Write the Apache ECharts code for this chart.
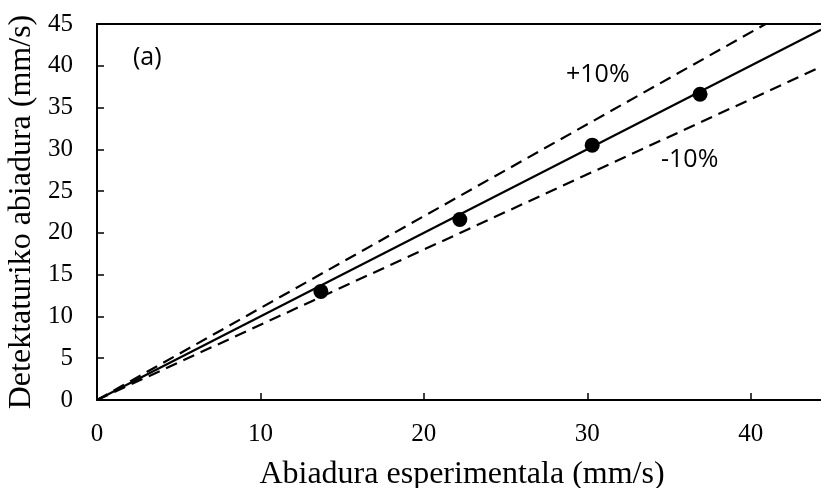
<!DOCTYPE html>
<html>
<head>
<meta charset="utf-8">
<script src="https://cdn.jsdelivr.net/npm/echarts@6/dist/echarts.min.js"></script>
<style>
  html, body { margin: 0; padding: 0; background: #fff; }
  #chart { width: 821px; height: 488px; }
</style>
</head>
<body>
<div id="chart"></div>
<script>
// Measured speeds (experimental vs detected), mm/s
const experimental = [13.7, 22.2, 30.3, 36.9];
const detected = [13.0, 21.6, 30.5, 36.6];

// Reference lines: 1:1 and ±10 % bands (end points)
const lineIdeal = [[0, 0], [44.3, 44.3]];
const linePlus10 = [[0, 0], [40.91, 45]];
const lineMinus10 = [[0, 0], [44.3, 39.87]];

const xTicks = [0, 10, 20, 30, 40];
const yTicks = [0, 5, 10, 15, 20, 25, 30, 35, 40, 45];

const points = experimental.map((x, i) => [x, detected[i]]);

const chart = echarts.init(document.getElementById('chart'));
const serif = '"Liberation Serif", "Times New Roman", serif';
const sans = '"Open Sans", "Noto Sans", sans-serif';

chart.setOption({
  animation: false,
  grid: { left: 97, top: 24, width: 724, height: 376, outerBoundsMode: 'none', containLabel: false },
  xAxis: [{
    type: 'value', min: 0, max: 44.3, interval: 10,
    name: 'Abiadura esperimentala (mm/s)',
    nameLocation: 'middle', nameGap: 59,
    nameTextStyle: { fontFamily: serif, fontSize: 32, color: '#000', padding: [0, 0, 0, 6] },
    axisLine: { show: true, lineStyle: { color: '#000', width: 2 } },
    axisTick: { show: true, inside: true, length: 7, lineStyle: { color: '#000', width: 1.5 } },
    axisLabel: {
      fontFamily: serif, fontSize: 25, color: '#000', margin: 22,
      showMaxLabel: false,
      formatter: v => (xTicks.includes(v) ? String(v) : '')
    },
    splitLine: { show: false }
  }, {
    type: 'value', position: 'top', min: 0, max: 44.3,
    axisLine: { show: true, lineStyle: { color: '#000', width: 2 } },
    axisTick: { show: false }, axisLabel: { show: false }, splitLine: { show: false }
  }],
  yAxis: {
    type: 'value', min: 0, max: 45, interval: 5,
    name: 'Detektaturiko abiadura (mm/s)',
    nameLocation: 'middle', nameGap: 55,
    nameTextStyle: { fontFamily: serif, fontSize: 32, color: '#000' },
    axisLine: { show: true, lineStyle: { color: '#000', width: 2 } },
    axisTick: { show: true, inside: true, length: 7, lineStyle: { color: '#000', width: 1.5 } },
    axisLabel: {
      fontFamily: serif, fontSize: 25, color: '#000', margin: 24,
      formatter: v => (yTicks.includes(v) ? String(v) : '')
    },
    splitLine: { show: false }
  },
  series: [
    {
      type: 'line', data: lineIdeal, showSymbol: false, symbol: 'none',
      lineStyle: { color: '#000', width: 2.2 }, z: 3
    },
    {
      type: 'line', data: linePlus10, showSymbol: false, symbol: 'none',
      lineStyle: { color: '#000', width: 2.2, type: [12, 7] }, z: 2
    },
    {
      type: 'line', data: lineMinus10, showSymbol: false, symbol: 'none',
      lineStyle: { color: '#000', width: 2.2, type: [12, 7] }, z: 2
    },
    {
      type: 'scatter', data: points, symbol: 'circle', symbolSize: 15,
      itemStyle: { color: '#000', opacity: 1 }, z: 4
    }
  ],
  graphic: [
    { type: 'text', left: 133, top: 45, style: { text: '(a)', font: '25px ' + sans, fill: '#000' } },
    { type: 'text', left: 566, top: 62, style: { text: '+10%', font: '25px ' + sans, fill: '#000' } },
    { type: 'text', left: 661, top: 147, style: { text: '-10%', font: '25px ' + sans, fill: '#000' } }
  ]
});
</script>
</body>
</html>
